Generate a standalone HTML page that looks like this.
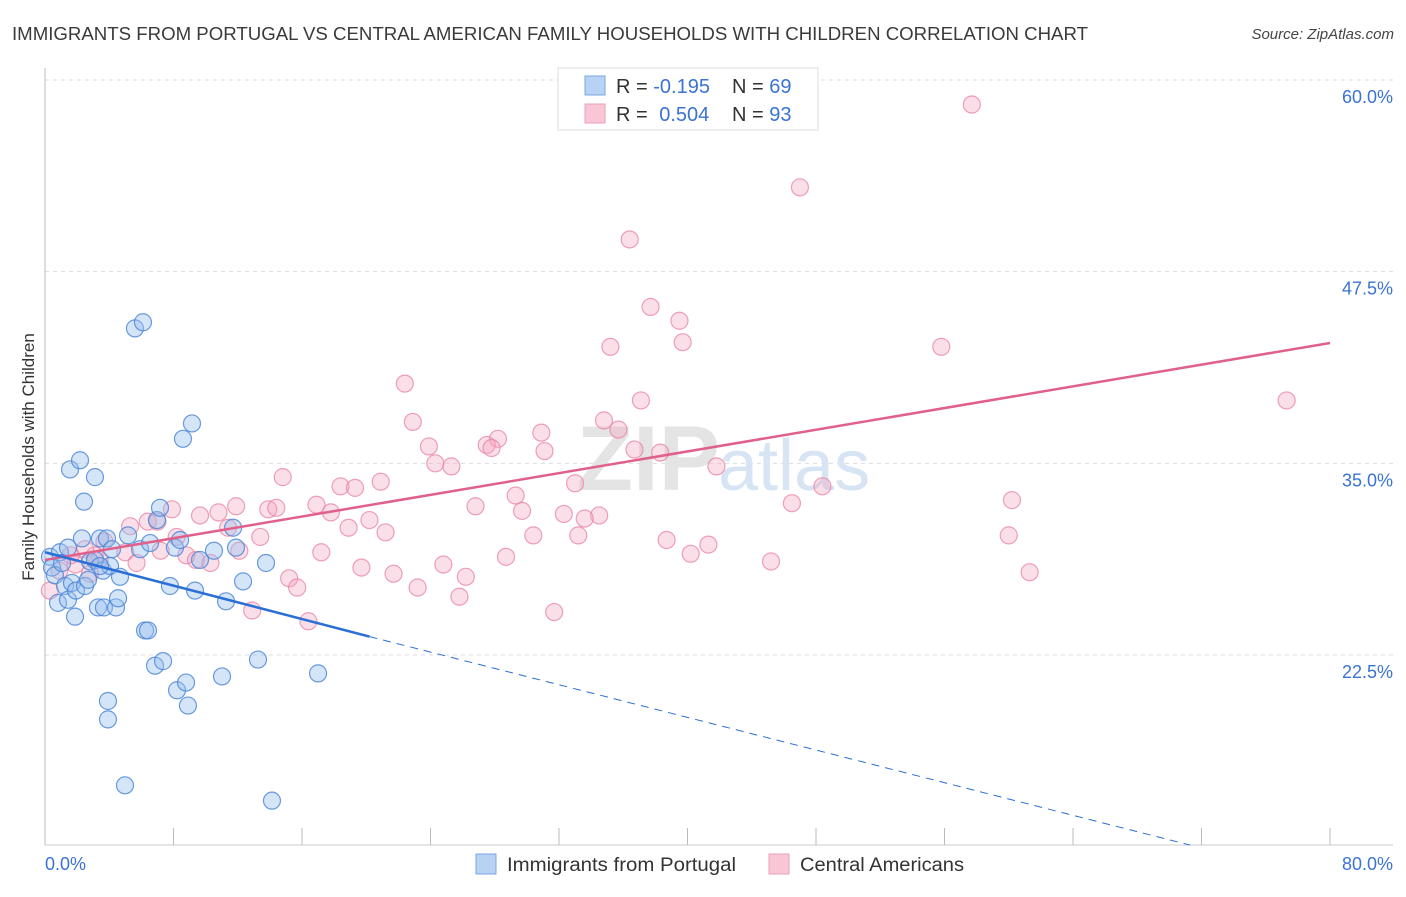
<!DOCTYPE html>
<html><head><meta charset="utf-8"><style>
body{margin:0;background:#fff;font-family:"Liberation Sans",sans-serif;}
svg text{font-family:"Liberation Sans",sans-serif;}
</style></head><body>
<svg id="chart" width="1406" height="892" xmlns="http://www.w3.org/2000/svg">
<text x="12" y="40" font-size="18" fill="#3a3a3a" textLength="1076" lengthAdjust="spacingAndGlyphs">IMMIGRANTS FROM PORTUGAL VS CENTRAL AMERICAN FAMILY HOUSEHOLDS WITH CHILDREN CORRELATION CHART</text>
<text x="1394" y="39" font-size="15" font-style="italic" fill="#444" text-anchor="end">Source: ZipAtlas.com</text>
<g id="grid"></g>
<text x="720" y="490" font-size="92" font-weight="bold" fill="#e4e4e4" text-anchor="end" font-family="Liberation Serif">ZIP</text>
<text x="718" y="490" font-size="72" fill="#d6e4f4">atlas</text>
<g id="marks"></g>
<text transform="translate(34,457) rotate(-90)" font-size="17" fill="#333" text-anchor="middle">Family Households with Children</text>
<text x="45" y="870" font-size="18" fill="#3a73d4">0.0%</text>
<text x="1393" y="870" font-size="18" fill="#3a73d4" text-anchor="end">80.0%</text>
<g>
<rect x="558" y="68" width="260" height="62" fill="#fff" stroke="#ddd"/>
<rect x="585" y="76" width="20" height="19" fill="#b8d2f3" stroke="#7aa6e3"/>
<rect x="585" y="104" width="20" height="19" fill="#f8c6d5" stroke="#eea0b8"/>
<text x="616" y="93" font-size="20" fill="#333">R = <tspan fill="#3a73d4">-0.195</tspan><tspan x="732">N = </tspan><tspan fill="#3a73d4">69</tspan></text>
<text x="616" y="121" font-size="20" fill="#333">R = <tspan fill="#3a73d4" dx="6">0.504</tspan><tspan x="732">N = </tspan><tspan fill="#3a73d4">93</tspan></text>
</g>
<g>
<rect x="476" y="854" width="20" height="20" fill="#b8d2f3" stroke="#7aa6e3"/>
<text x="507" y="871" font-size="19" fill="#333" textLength="229" lengthAdjust="spacingAndGlyphs">Immigrants from Portugal</text>
<rect x="769" y="854" width="20" height="20" fill="#f8c6d5" stroke="#eea0b8"/>
<text x="800" y="871" font-size="19" fill="#333" textLength="164" lengthAdjust="spacingAndGlyphs">Central Americans</text>
</g>
</svg>
<script>
const yTicks=[22.5,35.0,47.5,60.0];
const xTickVals=[0,8,16,24,32,40,48,56,64,72,80];
const blueX=[0.31,0.44,0.62,0.81,0.93,1.06,1.25,1.43,1.56,1.68,1.87,1.93,2.18,2.30,2.49,2.68,2.80,3.11,3.11,3.30,3.42,3.61,3.67,3.86,3.92,3.92,4.05,4.17,4.42,4.55,4.67,4.98,5.17,5.60,5.92,6.10,6.23,6.41,6.54,6.85,6.97,7.16,7.35,7.78,8.09,8.22,8.41,8.59,8.78,8.90,9.15,9.34,9.65,10.52,11.02,11.27,11.71,11.89,12.33,13.26,13.76,14.13,17.0,2.43,1.43,3.42];
const blueY=[28.9,28.2,27.7,25.9,29.2,28.5,27.0,26.1,34.6,27.2,25.0,26.7,35.2,30.1,27.0,27.4,28.6,34.1,28.7,25.6,30.1,28.0,25.6,30.1,19.5,18.3,28.3,29.4,25.6,26.2,27.6,14.0,30.3,43.8,29.4,44.2,24.1,24.1,29.8,21.8,31.3,32.1,22.1,27.0,29.5,20.2,30.0,36.6,20.7,19.2,37.6,26.7,28.7,29.3,21.1,26.0,30.8,29.5,27.3,22.2,28.5,13.0,21.3,32.5,29.5,28.3];
const pinkX=[57.7,47.0,36.4,37.7,39.5,39.7,35.2,55.8,22.4,77.3,37.1,22.9,34.8,35.7,23.9,30.9,28.2,27.5,27.8,31.1,36.7,38.3,24.3,25.3,41.8,14.8,33.0,20.9,48.4,18.4,19.3,16.9,29.3,26.8,29.7,46.5,60.2,11.9,9.65,10.8,7.9,13.9,14.4,17.8,20.2,32.3,34.5,33.6,5.3,6.4,7.0,18.9,11.4,21.2,30.4,33.2,13.4,3.7,8.2,38.7,41.3,60.0,7.2,17.2,3.1,5.0,12.1,8.8,9.4,10.3,40.2,28.7,45.2,19.7,24.8,21.7,26.2,15.2,5.7,15.7,23.2,25.8,61.3,12.9,16.4,31.7,1.9,0.9,3.4,2.8,2.5,1.6,0.3];
const pinkY=[58.4,53.0,49.6,45.2,44.3,42.9,42.6,42.6,40.2,39.1,39.1,37.7,37.8,37.2,36.1,37.0,36.6,36.2,36.0,35.8,35.9,35.7,35.0,34.8,34.8,34.1,33.7,33.8,33.5,33.5,33.4,32.3,32.9,32.2,31.9,32.4,32.6,32.2,31.6,31.8,32.0,32.0,32.1,31.8,31.3,31.7,31.6,31.4,30.9,31.2,31.2,30.8,30.8,30.5,30.3,30.3,30.2,29.9,30.2,30.0,29.7,30.3,29.3,29.2,29.0,29.2,29.3,29.0,28.7,28.5,29.1,28.9,28.6,28.2,28.4,27.8,27.6,27.5,28.5,26.9,26.9,26.3,27.9,25.4,24.7,25.3,28.4,28.0,28.7,27.8,29.4,29.0,26.7];
const blueLine=[0,29.2,20.2,23.7,71.3,10.1];
const pinkLine=[0,28.7,80,42.85];
const NS='http://www.w3.org/2000/svg';
function xs(v){return 45+v*(1285/80);}
function ys(v){return 80+(60-v)*15.333;}
function mk(tag,attrs,parent){const e=document.createElementNS(NS,tag);for(const k in attrs)e.setAttribute(k,attrs[k]);parent.appendChild(e);return e;}
const grid=document.getElementById('grid'),marks=document.getElementById('marks');
yTicks.forEach(t=>{
 const l=mk('line',{x1:45,x2:1393,y1:ys(t),y2:ys(t),stroke:'#ddd','stroke-dasharray':'4,4'},grid);
 
 
 const tx=mk('text',{x:1393,y:ys(t)+23,'font-size':18,fill:'#3a73d4','text-anchor':'end'},grid);
 tx.textContent=t.toFixed(1)+'%';
 
 
});
const ax=mk('line',{x1:45,x2:45,y1:68,y2:845,stroke:'#bbb'},grid);


const bx=mk('line',{x1:45,x2:1393,y1:845,y2:845,stroke:'#ccc'},grid);


xTickVals.forEach(t=>{
 const l=mk('line',{x1:xs(t),x2:xs(t),y1:828,y2:845,stroke:'#bbb'},grid);
 
 
});
for(let i=0;i<pinkX.length;i++){
 const c=mk('circle',{cx:xs(pinkX[i]),cy:ys(pinkY[i]),r:8.5,fill:'rgba(244,164,190,0.35)',stroke:'rgba(232,130,162,0.75)','stroke-width':1.2},marks);
 
 
}
for(let i=0;i<blueX.length;i++){
 const c=mk('circle',{cx:xs(blueX[i]),cy:ys(blueY[i]),r:8.5,fill:'rgba(150,190,238,0.4)',stroke:'rgba(70,130,215,0.8)','stroke-width':1.2},marks);
 
 
}
const pl=mk('line',{x1:xs(pinkLine[0]),y1:ys(pinkLine[1]),x2:xs(pinkLine[2]),y2:ys(pinkLine[3]),stroke:'#e0608a','stroke-width':2.5},marks);


const bl=mk('line',{x1:xs(blueLine[0]),y1:ys(blueLine[1]),x2:xs(blueLine[2]),y2:ys(blueLine[3]),stroke:'#2a6fd6','stroke-width':2.5},marks);


const bd=mk('line',{x1:xs(blueLine[2]),y1:ys(blueLine[3]),x2:xs(blueLine[4]),y2:ys(blueLine[5]),stroke:'#2a6fd6','stroke-width':1,'stroke-dasharray':'8,6'},marks);


</script>
</body></html>
